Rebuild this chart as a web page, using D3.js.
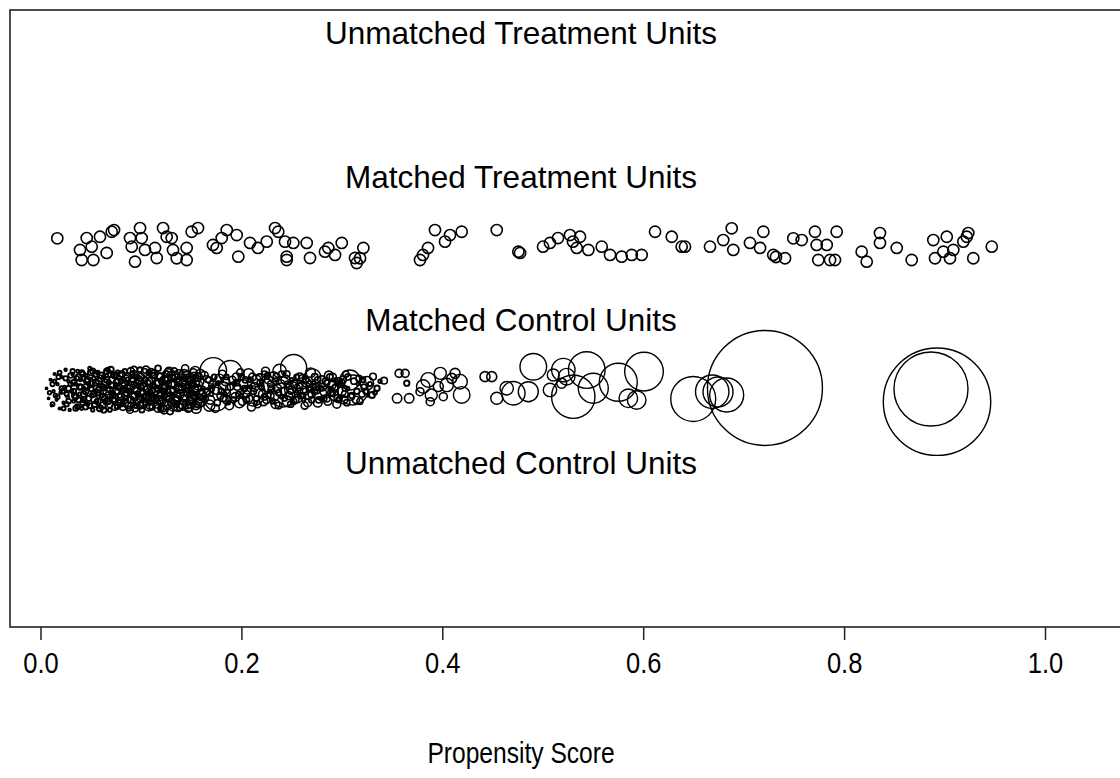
<!DOCTYPE html>
<html>
<head>
<meta charset="utf-8">
<script src="https://cdn.jsdelivr.net/npm/d3@7"></script>
<style>
  html, body { margin: 0; padding: 0; background: #fff; }
  svg { display: block; }
  text { font-family: "Liberation Sans", Arial, sans-serif; fill: #000; }
</style>
</head>
<body>
<svg id="chart" width="1120" height="778"></svg>
<script>
// Row labels (y position on the jitter scale) and axis ticks
const rowLabels = ["Unmatched Treatment Units", "Matched Treatment Units", "Matched Control Units", "Unmatched Control Units"];
const rowLevels = [4, 3, 2, 1];
const tickValues = [0, 0.2, 0.4, 0.6, 0.8, 1.0];
const tickLabels = ["0.0", "0.2", "0.4", "0.6", "0.8", "1.0"];
const axisTitle = "Propensity Score";

// Matched treatment units: propensity score and jittered row position
const treatedScore = [
  0.0167, 0.0393, 0.0410, 0.0460, 0.0510, 0.0526, 0.0592, 0.0659, 0.0709, 0.0732,
  0.0891, 0.0908, 0.0941, 0.0991, 0.1007, 0.1040, 0.1140, 0.1157, 0.1220, 0.1256,
  0.1306, 0.1319, 0.1356, 0.1455, 0.1455, 0.1505, 0.1568, 0.1717, 0.1754, 0.1804,
  0.1854, 0.1953, 0.1969, 0.2086, 0.2165, 0.2252, 0.2335, 0.2367, 0.2434, 0.2451,
  0.2451, 0.2517, 0.2650, 0.2683, 0.2832, 0.2865, 0.2932, 0.2999, 0.3131, 0.3148,
  0.3214, 0.3181, 0.3778, 0.3808, 0.3858, 0.3927, 0.4027, 0.4077, 0.4193, 0.4542,
  0.4757, 0.4774, 0.5003, 0.5072, 0.5152, 0.5271, 0.5301, 0.5338, 0.5371, 0.5454,
  0.5587, 0.5670, 0.5786, 0.5886, 0.5985, 0.6118, 0.6284, 0.6383, 0.6416, 0.6665,
  0.6797, 0.6881, 0.6897, 0.7063, 0.7163, 0.7196, 0.7295, 0.7322, 0.7412, 0.7494,
  0.7578, 0.7710, 0.7727, 0.7743, 0.7827, 0.7860, 0.7909, 0.7926, 0.8175, 0.8225,
  0.8357, 0.8357, 0.8524, 0.8673, 0.8888, 0.8905, 0.8988, 0.9022, 0.9054, 0.9087,
  0.9187, 0.9221, 0.9236, 0.9286, 0.9470
];
const treatedJitter = [
  2.567, 2.486, 2.416, 2.569, 2.509, 2.416, 2.578, 2.465, 2.613, 2.625,
  2.569, 2.509, 2.404, 2.639, 2.569, 2.486, 2.500, 2.430, 2.639, 2.578,
  2.569, 2.486, 2.428, 2.500, 2.416, 2.613, 2.639, 2.521, 2.500, 2.569,
  2.625, 2.590, 2.439, 2.535, 2.500, 2.544, 2.639, 2.613, 2.544, 2.439,
  2.416, 2.535, 2.535, 2.430, 2.474, 2.500, 2.451, 2.535, 2.430, 2.395,
  2.500, 2.428, 2.416, 2.451, 2.500, 2.625, 2.544, 2.590, 2.613, 2.625,
  2.474, 2.465, 2.509, 2.535, 2.569, 2.590, 2.544, 2.500, 2.578, 2.486,
  2.509, 2.451, 2.439, 2.451, 2.451, 2.613, 2.578, 2.509, 2.509, 2.509,
  2.555, 2.637, 2.486, 2.535, 2.500, 2.613, 2.451, 2.437, 2.428, 2.567,
  2.555, 2.613, 2.521, 2.416, 2.521, 2.416, 2.416, 2.613, 2.474, 2.404,
  2.604, 2.535, 2.500, 2.416, 2.555, 2.428, 2.474, 2.578, 2.428, 2.486,
  2.544, 2.578, 2.604, 2.428, 2.509
];

// Matched control units: [propensity score, jittered row position, weight]
const controlLow = [
  [0.006,1.52,0.03],[0.008,1.45,0.03],[0.010,1.58,0.04],[0.011,1.40,0.03],[0.013,1.50,0.05],
  [0.014,1.62,0.04],[0.016,1.44,0.04],[0.017,1.55,0.05],[0.019,1.38,0.04],[0.020,1.49,0.06],
  [0.021,1.60,0.05],[0.023,1.42,0.05],[0.024,1.53,0.06],[0.025,1.65,0.05],[0.027,1.46,0.07],
  [0.028,1.57,0.06],[0.029,1.37,0.05],[0.031,1.50,0.08],[0.032,1.62,0.06],[0.033,1.43,0.07],
  [0.035,1.55,0.08],[0.036,1.40,0.06],[0.037,1.64,0.07],[0.039,1.48,0.09],[0.040,1.58,0.08],
  [0.041,1.38,0.07],[0.043,1.52,0.10],[0.044,1.45,0.08],[0.045,1.61,0.09],[0.047,1.41,0.08],
  [0.048,1.55,0.10],[0.049,1.66,0.08],[0.051,1.47,0.11],[0.052,1.37,0.09],[0.053,1.59,0.10],
  [0.055,1.50,0.12],[0.056,1.43,0.10],[0.057,1.63,0.11],[0.059,1.54,0.12],[0.060,1.39,0.10],
  [0.061,1.47,0.13],[0.063,1.60,0.11],[0.064,1.52,0.14],[0.065,1.42,0.12],[0.067,1.65,0.12],
  [0.068,1.56,0.15],[0.069,1.37,0.12],[0.071,1.49,0.14],[0.072,1.61,0.13],[0.073,1.44,0.16],
  [0.075,1.54,0.15],[0.076,1.39,0.14],[0.077,1.63,0.15],[0.079,1.47,0.17],[0.080,1.57,0.16],
  [0.081,1.41,0.15],[0.083,1.51,0.18],[0.084,1.64,0.16],[0.085,1.45,0.17],[0.087,1.58,0.19],
  [0.088,1.38,0.17],[0.089,1.50,0.20],[0.091,1.62,0.18],[0.092,1.43,0.19],[0.093,1.55,0.21],
  [0.095,1.40,0.19],[0.096,1.60,0.20],[0.097,1.48,0.22],[0.099,1.65,0.20],[0.100,1.53,0.23],
  [0.101,1.37,0.21],[0.103,1.46,0.24],[0.104,1.58,0.22],[0.105,1.42,0.25],[0.107,1.56,0.23],
  [0.108,1.63,0.24],[0.109,1.49,0.26],[0.111,1.39,0.24],[0.112,1.54,0.27],[0.113,1.61,0.25],
  [0.115,1.44,0.28],[0.116,1.52,0.26],[0.117,1.66,0.27],[0.119,1.47,0.30],[0.120,1.38,0.28],
  [0.121,1.57,0.29],[0.123,1.50,0.31],[0.124,1.42,0.30],[0.125,1.62,0.32],[0.127,1.55,0.33],
  [0.128,1.45,0.31],[0.129,1.36,0.34],[0.131,1.59,0.35],[0.132,1.51,0.33],[0.133,1.64,0.36],
  [0.135,1.41,0.37],[0.136,1.48,0.35],[0.137,1.56,0.38],[0.139,1.39,0.40],[0.140,1.61,0.38],
  [0.141,1.53,0.41],[0.143,1.45,0.42],[0.144,1.66,0.40],[0.145,1.50,0.44],[0.147,1.38,0.45],
  [0.148,1.58,0.43],[0.149,1.43,0.46],[0.151,1.55,0.48],[0.152,1.63,0.47],[0.153,1.47,0.50],
  [0.155,1.40,0.52],[0.156,1.52,0.49],[0.157,1.60,0.55],[0.159,1.45,0.58],
  [0.034,1.47,0.25],[0.038,1.60,0.30],[0.042,1.42,0.20],[0.046,1.53,0.35],[0.050,1.63,0.25],
  [0.054,1.44,0.40],[0.058,1.57,0.30],[0.062,1.40,0.35],[0.066,1.50,0.45],[0.070,1.62,0.30],
  [0.074,1.45,0.40],[0.078,1.58,0.50],[0.082,1.39,0.35],[0.086,1.52,0.45],[0.090,1.64,0.40],
  [0.094,1.46,0.50],[0.098,1.57,0.35],[0.102,1.41,0.55],[0.106,1.51,0.40],[0.110,1.63,0.50],
  [0.114,1.44,0.45],[0.118,1.55,0.60],[0.122,1.38,0.40],[0.126,1.49,0.55],[0.130,1.61,0.50],
  [0.134,1.43,0.60],[0.138,1.53,0.45],[0.142,1.40,0.65],[0.146,1.59,0.50],[0.150,1.47,0.70],
  [0.154,1.56,0.55],[0.158,1.42,0.75],[0.092,1.53,1.00],[0.118,1.47,0.90],[0.141,1.58,1.10],
  [0.150,1.42,0.90]
];
const controlLowExtra = [
  [0.012,1.55,0.15],[0.015,1.47,0.12],[0.018,1.60,0.15],[0.022,1.50,0.18],[0.026,1.41,0.16],
  [0.028,1.52,0.20],[0.030,1.61,0.18],[0.033,1.56,0.22],[0.035,1.46,0.20],[0.037,1.39,0.18],
  [0.039,1.53,0.25],[0.041,1.63,0.20],[0.043,1.44,0.22],[0.045,1.50,0.28],[0.047,1.58,0.24],
  [0.049,1.40,0.20],[0.051,1.55,0.30],[0.053,1.48,0.26],[0.055,1.62,0.22],[0.057,1.43,0.30],
  [0.058,1.51,0.24],[0.060,1.59,0.32],[0.062,1.46,0.28],[0.063,1.37,0.24],[0.065,1.56,0.34],
  [0.066,1.64,0.26],[0.068,1.48,0.30],[0.069,1.41,0.36],[0.071,1.54,0.28],[0.072,1.44,0.34],
  [0.074,1.61,0.30],[0.075,1.50,0.38],[0.077,1.40,0.30],[0.078,1.53,0.34],[0.080,1.46,0.40],
  [0.081,1.62,0.32],[0.083,1.56,0.36],[0.084,1.42,0.42],[0.086,1.49,0.34],[0.087,1.60,0.40],
  [0.089,1.37,0.36],[0.090,1.54,0.44],[0.092,1.47,0.38],[0.093,1.65,0.36],[0.095,1.51,0.46],
  [0.096,1.43,0.40],[0.098,1.58,0.44],[0.099,1.40,0.38],[0.101,1.55,0.48],[0.102,1.48,0.42],
  [0.104,1.63,0.46],[0.105,1.45,0.50],[0.107,1.52,0.44],[0.108,1.39,0.48],[0.110,1.57,0.52],
  [0.111,1.46,0.46],[0.113,1.62,0.50],[0.114,1.50,0.55],[0.116,1.41,0.48],[0.117,1.56,0.52],
  [0.119,1.44,0.58],[0.120,1.60,0.50],[0.122,1.52,0.55],[0.123,1.37,0.50],[0.125,1.47,0.60],
  [0.126,1.58,0.55],[0.128,1.64,0.50],[0.129,1.50,0.62],[0.131,1.42,0.55],[0.132,1.55,0.60],
  [0.134,1.61,0.58],[0.135,1.46,0.65],[0.137,1.39,0.60],[0.138,1.52,0.62],[0.140,1.57,0.70],
  [0.142,1.44,0.60],[0.143,1.62,0.66],[0.145,1.54,0.72],[0.146,1.41,0.64],[0.148,1.49,0.70],
  [0.149,1.59,0.75],[0.151,1.45,0.68],[0.152,1.52,0.80],[0.154,1.64,0.70],[0.155,1.38,0.75],
  [0.157,1.50,0.85],[0.158,1.57,0.72],[0.160,1.43,0.80]
];
const controlLowFill = [
  [0.009,1.49,0.10],[0.012,1.41,0.12],[0.014,1.57,0.10],[0.017,1.46,0.14],[0.019,1.63,0.12],
  [0.021,1.52,0.15],[0.023,1.38,0.12],[0.025,1.59,0.16],[0.026,1.48,0.14],[0.028,1.43,0.18],
  [0.030,1.55,0.16],[0.032,1.64,0.15],[0.033,1.50,0.20],[0.035,1.38,0.18],[0.036,1.59,0.20],
  [0.038,1.44,0.22],[0.040,1.53,0.20],[0.042,1.62,0.22],[0.043,1.48,0.25],[0.045,1.39,0.20],
  [0.046,1.57,0.24],[0.048,1.45,0.22],[0.050,1.52,0.26],[0.052,1.64,0.22],[0.054,1.41,0.25],
  [0.055,1.56,0.28],[0.057,1.49,0.24],[0.059,1.38,0.26],[0.061,1.61,0.28],[0.062,1.53,0.25],
  [0.064,1.45,0.30],[0.066,1.58,0.26],[0.067,1.43,0.28],[0.069,1.51,0.32],[0.070,1.65,0.28],
  [0.072,1.47,0.30],[0.074,1.39,0.32],[0.076,1.56,0.34],[0.077,1.50,0.30],[0.079,1.61,0.32],
  [0.080,1.42,0.35],[0.082,1.54,0.30],[0.084,1.47,0.34],[0.085,1.59,0.36],[0.087,1.40,0.32],
  [0.088,1.52,0.38],[0.090,1.44,0.34],[0.091,1.57,0.36],[0.093,1.62,0.40],[0.094,1.38,0.35],
  [0.096,1.50,0.38],[0.097,1.55,0.40],[0.099,1.45,0.36],[0.100,1.60,0.42],[0.102,1.42,0.38],
  [0.103,1.53,0.40],[0.105,1.65,0.42],[0.106,1.47,0.44],[0.108,1.57,0.40],[0.109,1.40,0.45],
  [0.111,1.51,0.42],[0.112,1.62,0.46],[0.114,1.45,0.44],[0.115,1.55,0.48],[0.117,1.38,0.45],
  [0.118,1.60,0.46],[0.120,1.49,0.50],[0.121,1.43,0.46],[0.123,1.58,0.50],[0.124,1.53,0.48],
  [0.126,1.40,0.52],[0.127,1.63,0.50],[0.129,1.46,0.54],[0.130,1.55,0.50],[0.132,1.39,0.55],
  [0.133,1.50,0.52],[0.135,1.59,0.56],[0.136,1.44,0.54],[0.138,1.62,0.58],[0.139,1.48,0.55],
  [0.141,1.41,0.60],[0.142,1.55,0.56],[0.144,1.47,0.60],[0.145,1.61,0.58],[0.147,1.52,0.62],
  [0.148,1.39,0.60],[0.150,1.57,0.64],[0.151,1.44,0.62],[0.153,1.60,0.66],[0.154,1.50,0.64],
  [0.156,1.42,0.68],[0.157,1.54,0.66],[0.159,1.62,0.70],[0.160,1.48,0.68]
];
const controlMid = [
  [0.172,1.642,5.64],[0.189,1.633,4.37],[0.175,1.445,4.37],[0.192,1.509,2.04],[0.212,1.467,3.19],
  [0.238,1.642,1.43],[0.252,1.666,5.39],[0.251,1.509,2.04],[0.271,1.600,2.04],[0.278,1.488,1.43],
  [0.311,1.509,7.17],[0.308,1.579,3.19],[0.325,1.556,1.43],[0.241,1.474,4.60],
  [0.165,1.560,1.50],[0.160,1.470,0.80],[0.168,1.400,1.00],[0.178,1.590,0.60],[0.183,1.520,1.20],
  [0.185,1.440,0.50],[0.195,1.600,0.50],[0.198,1.420,0.80],[0.202,1.550,0.60],[0.205,1.480,0.40],
  [0.207,1.620,0.90],[0.210,1.390,0.50],[0.215,1.580,0.70],[0.218,1.500,1.00],[0.222,1.430,0.60],
  [0.224,1.640,0.50],[0.226,1.540,1.30],[0.229,1.470,0.40],[0.232,1.600,0.80],[0.234,1.410,0.60],
  [0.236,1.520,0.50],[0.244,1.580,0.70],[0.246,1.430,0.90],[0.248,1.540,0.40],[0.256,1.450,0.60],
  [0.258,1.600,0.50],[0.260,1.520,1.00],[0.263,1.400,0.40],[0.265,1.560,0.60],[0.267,1.470,0.50],
  [0.269,1.630,0.70],[0.274,1.530,0.40],[0.276,1.420,0.60],[0.280,1.580,0.50],[0.283,1.500,0.80],
  [0.285,1.450,0.40],[0.287,1.610,0.60],[0.290,1.540,0.50],[0.292,1.470,0.70],[0.295,1.410,0.50],
  [0.297,1.570,0.40],[0.300,1.500,0.60],[0.302,1.440,0.50],[0.304,1.620,0.30],[0.314,1.440,0.40],
  [0.317,1.590,0.30],[0.320,1.480,0.30],[0.322,1.530,0.25],
  [0.162,1.52,0.10],[0.170,1.48,0.12],[0.177,1.56,0.08],[0.187,1.42,0.10],[0.193,1.55,0.12],
  [0.200,1.47,0.09],[0.209,1.53,0.10],[0.214,1.42,0.08],[0.220,1.57,0.11],[0.228,1.50,0.10],
  [0.240,1.46,0.09],[0.250,1.58,0.10],[0.255,1.50,0.08],[0.262,1.44,0.10],[0.272,1.56,0.09],
  [0.279,1.45,0.10],[0.288,1.52,0.08],[0.294,1.58,0.10],[0.299,1.46,0.09],[0.306,1.52,0.08],
  [0.316,1.55,0.07],[0.326,1.47,0.06]
];
const controlMidExtra = [
  [0.163,1.61,0.50],[0.166,1.50,0.35],[0.169,1.44,0.60],[0.171,1.55,0.40],[0.174,1.38,0.50],
  [0.176,1.51,0.70],[0.179,1.47,0.35],[0.181,1.62,0.45],[0.184,1.57,0.60],[0.186,1.49,0.30],
  [0.188,1.40,0.55],[0.191,1.58,0.40],[0.194,1.46,0.60],[0.196,1.53,0.35],[0.199,1.63,0.45],
  [0.201,1.43,0.50],[0.204,1.58,0.30],[0.206,1.51,0.55],[0.208,1.45,0.35],[0.211,1.60,0.45],
  [0.213,1.53,0.60],[0.216,1.41,0.40],[0.219,1.56,0.35],[0.221,1.48,0.50],[0.223,1.62,0.30],
  [0.225,1.44,0.45],[0.227,1.58,0.55],[0.230,1.52,0.35],[0.233,1.46,0.50],[0.235,1.60,0.40],
  [0.237,1.40,0.35],[0.239,1.55,0.60],[0.242,1.50,0.40],[0.245,1.62,0.35],[0.247,1.47,0.50],
  [0.249,1.41,0.30],[0.253,1.55,0.45],[0.254,1.44,0.35],[0.257,1.53,0.50],[0.259,1.47,0.30],
  [0.261,1.59,0.45],[0.264,1.50,0.35],[0.266,1.42,0.50],[0.268,1.55,0.30],[0.270,1.48,0.45],
  [0.273,1.60,0.35],[0.275,1.51,0.50],[0.277,1.44,0.30],[0.281,1.53,0.45],[0.284,1.57,0.35],
  [0.286,1.43,0.50],[0.289,1.49,0.30],[0.291,1.60,0.40],[0.293,1.52,0.35],[0.296,1.45,0.45],
  [0.298,1.55,0.30],[0.301,1.58,0.40],[0.303,1.48,0.35],[0.305,1.42,0.30],[0.309,1.46,0.35],
  [0.312,1.57,0.30],[0.315,1.50,0.25],[0.318,1.43,0.30],[0.321,1.58,0.20],[0.324,1.50,0.25],
  [0.328,1.55,0.15],[0.333,1.49,0.12],[0.338,1.57,0.10]
];
const controlMidFill = [
  [0.164,1.45,0.30],[0.167,1.58,0.25],[0.170,1.52,0.30],[0.173,1.60,0.20],[0.176,1.42,0.30],
  [0.180,1.50,0.25],[0.182,1.45,0.30],[0.185,1.60,0.20],[0.189,1.53,0.30],[0.192,1.44,0.25],
  [0.195,1.56,0.30],[0.197,1.48,0.20],[0.200,1.60,0.30],[0.203,1.52,0.25],[0.205,1.44,0.30],
  [0.209,1.58,0.20],[0.212,1.50,0.30],[0.215,1.45,0.25],[0.218,1.60,0.30],[0.220,1.53,0.20],
  [0.223,1.46,0.30],[0.226,1.61,0.25],[0.229,1.55,0.30],[0.231,1.43,0.20],[0.234,1.57,0.30],
  [0.237,1.49,0.25],[0.240,1.62,0.30],[0.243,1.45,0.20],[0.246,1.55,0.30],[0.249,1.50,0.25],
  [0.252,1.43,0.30],[0.255,1.60,0.20],[0.258,1.54,0.30],[0.261,1.47,0.25],[0.264,1.58,0.30],
  [0.267,1.52,0.20],[0.270,1.44,0.30],[0.273,1.50,0.25],[0.276,1.58,0.30],[0.279,1.52,0.20],
  [0.282,1.45,0.30],[0.285,1.56,0.25],[0.288,1.60,0.30],[0.291,1.48,0.20],[0.294,1.53,0.30],
  [0.297,1.44,0.25],[0.300,1.56,0.30],[0.303,1.52,0.20],[0.306,1.60,0.30],[0.310,1.47,0.25]
];
const controlHigh = [
  [0.331,1.602,0.35],[0.335,1.521,0.23],[0.330,1.474,0.29],[0.342,1.574,0.35],[0.357,1.625,0.51],
  [0.363,1.625,0.51],[0.3646,1.556,0.23],[0.355,1.451,0.70],[0.367,1.451,0.70],
  [0.381,1.533,1.43],[0.386,1.579,1.70],[0.389,1.474,1.15],[0.388,1.427,0.51],[0.398,1.625,1.15],
  [0.396,1.533,0.80],[0.4044,1.544,1.43],[0.4094,1.590,0.80],[0.4127,1.625,0.80],[0.4176,1.567,1.70],
  [0.4193,1.474,2.20],[0.401,1.462,0.51],[0.3778,1.497,0.51],
  [0.4425,1.602,0.80],[0.4492,1.602,0.80],[0.4542,1.451,1.15],[0.4641,1.521,1.43],[0.4707,1.486,4.37],
  [0.4906,1.671,5.64],[0.4856,1.497,3.19],[0.5072,1.509,1.43],[0.5105,1.613,1.15],[0.5205,1.648,4.37],
  [0.5238,1.602,2.20],[0.5188,1.556,0.80],[0.5304,1.462,15.0],[0.5438,1.648,10.7],[0.5503,1.521,7.17],
  [0.5752,1.563,11.5],[0.6008,1.637,11.9],[0.5852,1.451,2.76],[0.5935,1.439,2.76],
  [0.6498,1.446,16.1],[0.6687,1.497,8.9],[0.6745,1.495,7.17],[0.6831,1.474,9.2],
  [0.7212,1.523,105.4],[0.8925,1.427,92.0],[0.8865,1.516,43.7]
];

const svg = d3.select("#chart");

const x = d3.scaleLinear().domain([0, 1]).range([40.5, 1045]);
const y = d3.scaleLinear().domain([1, 4]).range([462.9, 33]);
const r = d3.scaleSqrt().domain([0, 1]).range([0, 5.6]);

const box = { left: 10, top: 10, bottom: 627, right: 1135 };

// plot frame (right side runs past the page edge)
svg.append("rect")
  .attr("x", box.left).attr("y", box.top)
  .attr("width", box.right - box.left).attr("height", box.bottom - box.top)
  .attr("fill", "none").attr("stroke", "#222").attr("stroke-width", 1.6);

// row labels
svg.append("g").selectAll("text")
  .data(rowLabels)
  .join("text")
  .attr("x", 521)
  .attr("y", (d, i) => y(rowLevels[i]))
  .attr("dy", "0.36em")
  .attr("text-anchor", "middle")
  .attr("font-size", 31.5)
  .text(d => d);

// treated units
const treated = treatedScore.map((s, i) => ({ s, v: treatedJitter[i], w: 1 }));
svg.append("g").selectAll("circle")
  .data(treated)
  .join("circle")
  .attr("cx", d => x(d.s))
  .attr("cy", d => y(d.v))
  .attr("r", d => r(d.w))
  .attr("fill", "none")
  .attr("stroke", "#000")
  .attr("stroke-width", 1.6);

// control units, circle area proportional to weight
const controls = controlLow.concat(controlLowExtra, controlLowFill, controlMid, controlMidExtra, controlMidFill, controlHigh)
  .map(([s, v, w]) => ({ s, v, w }));
svg.append("g").selectAll("circle")
  .data(controls)
  .join("circle")
  .attr("cx", d => x(d.s))
  .attr("cy", d => y(d.v))
  .attr("r", d => r(d.w))
  .attr("fill", "none")
  .attr("stroke", "#000")
  .attr("stroke-width", d => d.w < 0.3 ? 1.9 : d.w < 1 ? 1.6 : 1.4);

// x axis
const axis = d3.axisBottom(x)
  .tickValues(tickValues)
  .tickFormat((d, i) => tickLabels[i])
  .tickSize(13)
  .tickPadding(12);
const ax = svg.append("g")
  .attr("transform", `translate(0,${box.bottom})`)
  .call(axis);
ax.select(".domain").remove();
ax.selectAll(".tick line").attr("stroke", "#222").attr("stroke-width", 1.5);
ax.selectAll(".tick text")
  .attr("font-family", "Liberation Sans, Arial, sans-serif")
  .attr("font-size", 30)
  .attr("fill", "#000")
  .attr("transform", "scale(0.85,1)");

svg.append("text")
  .attr("transform", "translate(521,752) scale(0.82,1)")
  .attr("dy", "0.36em")
  .attr("text-anchor", "middle")
  .attr("font-size", 30)
  .text(axisTitle);
</script>
</body>
</html>
